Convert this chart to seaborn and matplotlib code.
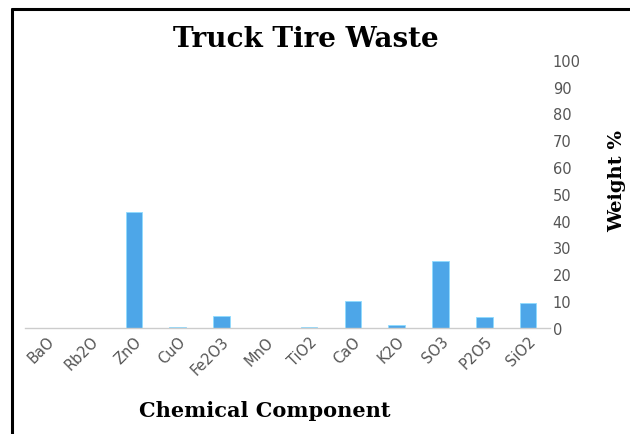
import seaborn as sns
import pandas as pd
import matplotlib.pyplot as plt
from matplotlib.lines import Line2D

components = ['BaO', 'Rb2O', 'ZnO', 'CuO', 'Fe2O3', 'MnO', 'TiO2', 'CaO', 'K2O', 'SO3', 'P2O5', 'SiO2']
weights = [0.1, 0.0, 43.3, 0.3, 4.6, 0.0, 0.3, 10.2, 1.2, 25.1, 4.2, 9.3]
yticks = [0, 10, 20, 30, 40, 50, 60, 70, 80, 90, 100]

sns.set_theme(style='white')
plt.rcParams['font.family'] = ['DejaVu Sans']

df = pd.DataFrame({'component': components, 'weight': weights})

fig = plt.figure(figsize=(6.3, 4.35), dpi=100)
ax = fig.add_axes([0.039, 0.244, 0.834, 0.616])

sns.barplot(data=df, x='component', y='weight', color='#4da6e8', width=0.38,
            saturation=1, edgecolor='#8fdcff', linewidth=0.6, ax=ax)

ax.set_ylim(0, 100)
ax.set_xlim(-0.5, len(components) - 0.5)
ax.set_yticks(yticks)
ax.yaxis.tick_right()
ax.tick_params(axis='y', length=0, labelsize=10.5, labelcolor='#555555', pad=2)
ax.tick_params(axis='x', length=0, labelsize=10.5, labelcolor='#555555', pad=4)
for lab in ax.get_xticklabels():
    lab.set_rotation(45)
    lab.set_ha('right')
    lab.set_rotation_mode('anchor')

for s in ['top', 'left', 'right']:
    ax.spines[s].set_visible(False)
ax.spines['bottom'].set_color('#cccccc')
ax.spines['bottom'].set_linewidth(1)

ax.set_xlabel('')
ax.set_ylabel('')

fig.text(0.486, 0.91, 'Truck Tire Waste', ha='center', va='center', color='black',
         fontsize=20, fontweight='bold', family='DejaVu Serif')
fig.text(0.42, 0.055, 'Chemical Component', ha='center', va='center', color='black',
         fontsize=15, fontweight='bold', family='DejaVu Serif')
fig.text(0.98, 0.585, 'Weight %', ha='center', va='center', rotation=90, color='black',
         fontsize=14, fontweight='bold', family='DejaVu Serif')

# frame lines from the original screenshot
fig.add_artist(Line2D([0.019, 0.019], [0.0, 0.977], color='black', lw=2.2, transform=fig.transFigure))
fig.add_artist(Line2D([0.019, 1.0], [0.977, 0.977], color='black', lw=2.2, transform=fig.transFigure))

fig.savefig('out.png', dpi=100)
